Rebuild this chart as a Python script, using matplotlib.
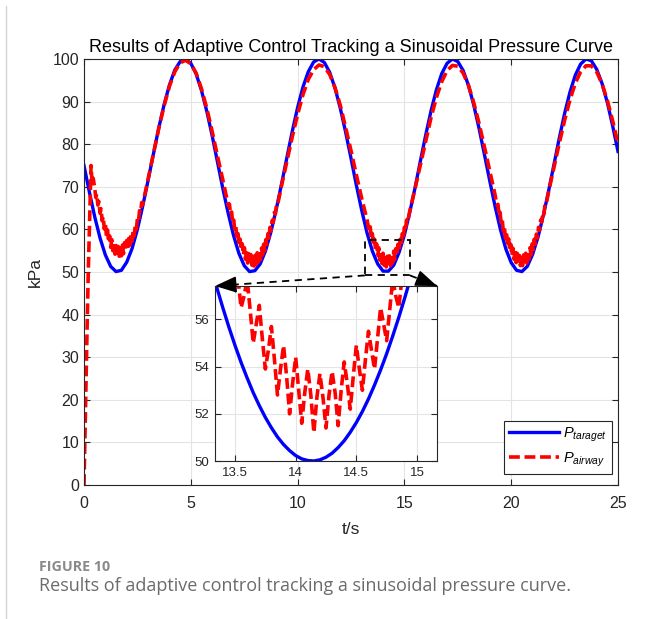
import numpy as np
import matplotlib
matplotlib.use('Agg')
import matplotlib.pyplot as plt
from matplotlib.lines import Line2D
from matplotlib.patches import Rectangle, FancyArrowPatch
from matplotlib.transforms import IdentityTransform

plt.rcParams['font.family'] = ['Liberation Sans', 'DejaVu Sans']
plt.rcParams['mathtext.fontset'] = 'custom'
plt.rcParams['mathtext.rm'] = 'Liberation Sans'
plt.rcParams['mathtext.it'] = 'Liberation Sans:italic'

# target pressure (kPa), every 0.25 s from 0 to 25 s
p_target = [75.0, 68.8, 63.0, 58.0, 54.0, 51.3, 50.1, 50.4, 52.3, 55.5,
            60.0, 65.5, 71.5, 77.7, 83.8, 89.3, 93.9, 97.4, 99.4, 100.0,
            99.0, 96.5, 92.6, 87.7, 82.0, 75.8, 69.6, 63.8, 58.6, 54.4,
            51.5, 50.1, 50.3, 51.9, 55.0, 59.4, 64.7, 70.7, 76.9, 83.0,
            88.6, 93.4, 97.0, 99.3, 100.0, 99.2, 96.9, 93.2, 88.4, 82.8,
            76.7, 70.4, 64.5, 59.2, 54.9, 51.9, 50.2, 50.2, 51.6, 54.6,
            58.7, 64.0, 69.8, 76.1, 82.2, 87.9, 92.8, 96.6, 99.0, 100.0,
            99.4, 97.3, 93.8, 89.1, 83.6, 77.5, 71.3, 65.3, 59.9, 55.4,
            52.2, 50.4, 50.1, 51.3, 54.1, 58.1, 63.2, 69.0, 75.2, 81.4,
            87.2, 92.2, 96.2, 98.8, 100.0, 99.6, 97.6, 94.3, 89.8, 84.3,
            78.3]
t_target = np.linspace(0, 25, len(p_target))

# target around the third trough, every 0.05 s from 13.30 to 15.20 s
p_target_zoom = [58.26, 57.35, 56.49, 55.67, 54.90, 54.18, 53.52, 52.90, 52.35, 51.85,
                 51.41, 51.02, 50.70, 50.44, 50.23, 50.09, 50.02, 50.00, 50.05, 50.16,
                 50.33, 50.57, 50.86, 51.22, 51.63, 52.10, 52.63, 53.22, 53.86, 54.55,
                 55.30, 56.09, 56.93, 57.82, 58.75, 59.72, 60.72, 61.78, 62.84]
t_target_zoom = np.linspace(13.30, 15.20, len(p_target_zoom))

# airway pressure, start-up
t_air_rise = [0, 0.05, 0.10, 0.15, 0.20, 0.25, 0.30, 0.33, 0.38, 0.43]
p_air_rise = [0, 13, 26, 38, 50, 60, 69, 75, 70.5, 72.0]

# first trough, every 0.05 s from 0.50 to 2.75 s
p_air_tr1 = [69.8, 67.5, 68.3, 65.7, 66.5, 63.8, 64.8, 62.0, 63.0, 60.1,
             61.4, 58.5, 59.9, 57.0, 58.5, 55.8, 57.6, 55.0, 56.9, 54.2,
             56.2, 53.7, 56.0, 53.7, 56.1, 53.8, 56.3, 54.3, 56.9, 55.0,
             57.4, 55.6, 57.9, 56.3, 58.6, 57.2, 59.7, 58.5, 60.9, 60.0,
             62.5, 61.9, 64.4, 64.0, 66.3, 65.9]
t_air_tr1 = np.linspace(0.50, 2.75, len(p_air_tr1))

# 3.00 .. 6.50 s, every 0.25 s
p_air_mid1 = [71.8, 77.8, 83.7, 89.0, 93.6, 97.0, 99.1, 99.7, 98.9, 96.7,
              93.0, 88.4, 83.0, 77.2, 71.6]
t_air_mid1 = np.linspace(3.0, 6.5, len(p_air_mid1))

# second trough, every 0.05 s from 6.76 to 9.06 s
p_air_tr2 = [65.6, 65.9, 63.5, 64.1, 61.6, 62.2, 59.7, 60.6, 57.9, 59.0,
             56.3, 57.7, 55.2, 56.6, 54.0, 55.7, 53.0, 54.9, 52.1, 54.3,
             51.8, 54.1, 51.6, 53.9, 51.4, 53.9, 51.8, 54.5, 52.3, 54.9,
             52.9, 55.6, 54.0, 56.5, 55.0, 57.6, 56.4, 59.0, 58.0, 60.5,
             59.7, 62.1, 61.6, 64.0, 63.6, 65.8, 65.7]
t_air_tr2 = np.linspace(6.76, 9.06, len(p_air_tr2))

# 9.25 .. 13.25 s
p_air_mid2 = [70.3, 76.0, 81.7, 87.0, 91.6, 95.2, 97.5, 98.6, 98.2, 96.4,
              93.3, 89.1, 83.9, 78.5, 72.8, 67.3, 62.3]
t_air_mid2 = np.linspace(9.25, 13.25, len(p_air_mid2))

# third trough, every 0.025 s from 13.35 to 15.15 s (also shown in the zoom)
p_air_tr3 = [59.6, 60.1, 60.6, 59.3, 58.0, 58.5, 59.0, 57.7, 56.5, 57.0,
             57.7, 56.4, 55.0, 55.8, 56.6, 55.2, 53.9, 54.7, 55.7, 54.3,
             52.8, 53.9, 54.9, 53.6, 52.0, 53.3, 54.4, 53.0, 51.6, 52.9,
             53.9, 52.8, 51.2, 52.7, 53.7, 52.7, 51.4, 52.8, 53.8, 52.9,
             51.5, 53.0, 54.2, 53.3, 52.2, 53.6, 54.9, 53.9, 53.0, 54.3,
             55.5, 54.7, 53.9, 55.2, 56.5, 55.8, 55.1, 56.4, 57.7, 57.0,
             56.5, 57.7, 59.0, 58.5, 58.0, 59.3, 60.5, 60.1, 59.7, 60.9,
             62.2, 61.8, 61.6]
t_air_tr3 = np.linspace(13.35, 15.15, len(p_air_tr3))

# 15.25 .. 19.25 s
p_air_mid3 = [64.3, 69.6, 75.2, 80.9, 86.3, 91.0, 94.7, 97.3, 98.5, 98.3,
              96.7, 93.8, 89.7, 84.8, 79.3, 73.6, 68.0]
t_air_mid3 = np.linspace(15.25, 19.25, len(p_air_mid3))

# fourth trough, every 0.05 s from 19.33 to 21.63 s
p_air_tr4 = [65.7, 65.9, 63.4, 64.0, 61.5, 62.3, 59.6, 60.5, 57.9, 59.1,
             56.5, 57.8, 55.1, 56.5, 53.8, 55.6, 53.0, 55.0, 52.2, 54.4,
             51.7, 53.9, 51.5, 54.0, 51.5, 54.0, 51.9, 54.4, 52.1, 54.8,
             53.0, 55.7, 54.0, 56.6, 55.2, 57.7, 56.5, 58.9, 58.0, 60.5,
             59.8, 62.2, 61.7, 64.0, 63.5, 65.8, 65.7]
t_air_tr4 = np.linspace(19.33, 21.63, len(p_air_tr4))

# 21.75 .. 25.00 s
p_air_mid4 = [68.8, 74.5, 80.2, 85.6, 90.4, 94.3, 97.0, 98.4, 98.4, 97.0,
              94.2, 90.3, 85.5, 80.1]
t_air_mid4 = np.linspace(21.75, 25.0, len(p_air_mid4))

t_air = np.concatenate([t_air_rise, t_air_tr1, t_air_mid1, t_air_tr2, t_air_mid2,
                        t_air_tr3, t_air_mid3, t_air_tr4, t_air_mid4])
p_air = np.concatenate([p_air_rise, p_air_tr1, p_air_mid1, p_air_tr2, p_air_mid2,
                        p_air_tr3, p_air_mid3, p_air_tr4, p_air_mid4])

BLUE = '#0000ff'
RED = '#ff0000'
DARK = '#262626'
GRID = '#e4e4e4'
red_dash = (0, (3.0, 1.3))

W, H = 645, 619
fig = plt.figure(figsize=(W / 100, H / 100), dpi=100)

ax = fig.add_axes([84 / W, 1 - 485 / H, 534 / W, 426 / H])
ax.plot(t_target, p_target, color=BLUE, lw=2.4, label=r'$P_{taraget}$')
ax.plot(t_air, p_air, color=RED, lw=2.6, ls=red_dash, dash_capstyle='butt',
        label=r'$P_{airway}$')
ax.set_xlim(0, 25)
ax.set_ylim(0, 100)
ax.set_xticks(np.arange(0, 26, 5))
ax.set_yticks(np.arange(0, 101, 10))
ax.grid(True, color=GRID, lw=0.8)
ax.set_axisbelow(True)
ax.tick_params(direction='in', top=True, right=True, length=4, width=0.8,
               labelsize=11.5, colors=DARK)
ax.tick_params(axis='x', pad=8)
for s in ax.spines.values():
    s.set_color(DARK)
    s.set_linewidth(0.8)
ax.set_title('Results of Adaptive Control Tracking a Sinusoidal Pressure Curve',
             fontsize=13, pad=5, color='black')
ax.set_xlabel('t/s', fontsize=12.5, color=DARK, labelpad=8)
ax.set_ylabel('kPa', fontsize=12.5, color=DARK, labelpad=7)

# dashed box marking the zoomed region
ax.add_patch(Rectangle((13.15, 49.2), 2.11, 8.2, fill=False, ec='black', lw=1.3,
                       ls=(0, (4, 3)), zorder=5))

leg = ax.legend(loc='lower right', bbox_to_anchor=(0.989, 0.026), borderaxespad=0,
                fontsize=10.5, fancybox=False, framealpha=1, edgecolor=DARK,
                handlelength=3.4, handletextpad=0.3, borderpad=0.35, labelspacing=0.45)
leg.get_frame().set_linewidth(0.8)

# zoomed view of the third trough
ins = fig.add_axes([215 / W, 1 - 461 / H, 222 / W, 175 / H])
ins.plot(t_target_zoom, p_target_zoom, color=BLUE, lw=2.4)
ins.plot(t_air_tr3, p_air_tr3, color=RED, lw=2.6, ls=red_dash, dash_capstyle='butt')
ins.set_xlim(13.335, 15.165)
ins.set_ylim(50, 57.42)
ins.set_xticks([13.5, 14, 14.5, 15])
ins.set_xticklabels(['13.5', '14', '14.5', '15'])
ins.set_yticks([50, 52, 54, 56])
ins.grid(True, color=GRID, lw=0.8)
ins.set_axisbelow(True)
ins.tick_params(direction='in', top=True, right=True, length=4, width=0.8,
                labelsize=9.5, colors=DARK, pad=4)
for s in ins.spines.values():
    s.set_color(DARK)
    s.set_linewidth(0.8)

# dashed leader lines with arrow heads from the box to the zoom corners
for xa, xb in [(13.15, 0), (15.26, 1)]:
    p0 = ax.transData.transform((xa, 49.2))
    p1 = ins.transAxes.transform((xb, 1))
    fig.add_artist(Line2D([p0[0], p1[0]], [p0[1], p1[1]], transform=IdentityTransform(),
                          color='black', lw=1.3, ls=(0, (4, 3))))
    d = (p1 - p0) / np.hypot(*(p1 - p0))
    fig.add_artist(FancyArrowPatch(
        p1 - 14 * d, p1, transform=IdentityTransform(),
        arrowstyle='-|>,head_length=1.1,head_width=0.42', mutation_scale=12,
        color='black', lw=1.2, shrinkA=0, shrinkB=0))

# page border and caption
fig.add_artist(Line2D([6 / W, 6 / W], [0, 1 - 6 / H], transform=fig.transFigure,
                      color='#d4d4d4', lw=1))
fig.text(39 / W, 1 - 567 / H, 'FIGURE 10', fontsize=10.3, weight='bold',
         color='#8a8a8a', family=['Open Sans', 'DejaVu Sans'], va='center')
fig.text(39 / W, 1 - 586 / H, 'Results of adaptive control tracking a sinusoidal pressure curve.',
         fontsize=13, color='#6b6b6b', family=['Open Sans', 'DejaVu Sans'], va='center')

fig.savefig('out.png', dpi=100)
